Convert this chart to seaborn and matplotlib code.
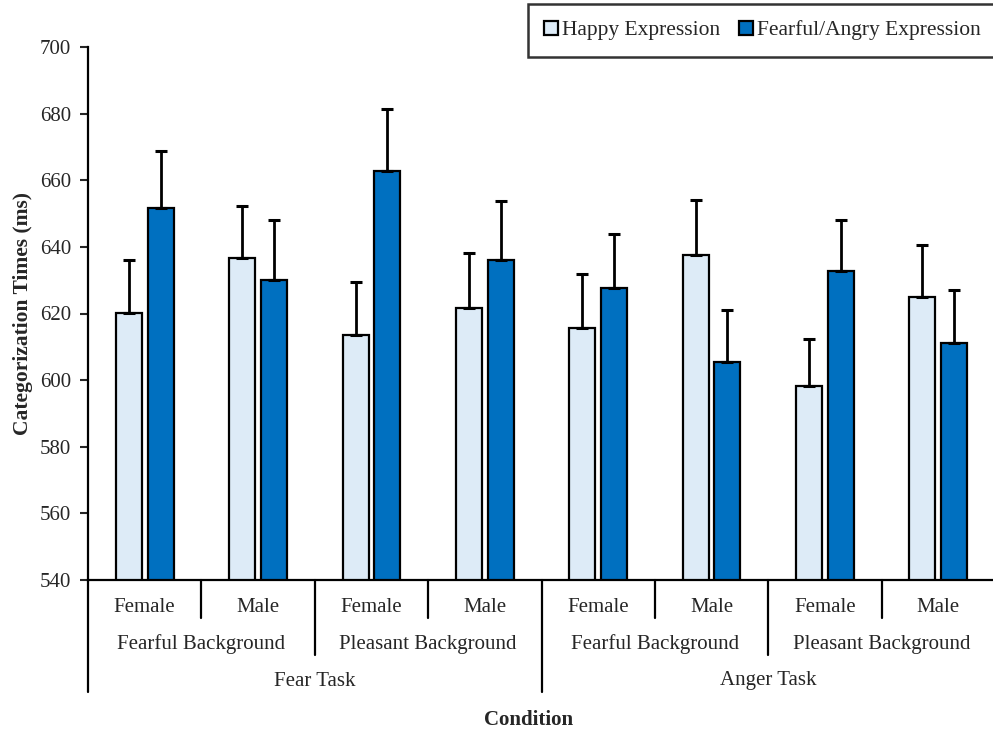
import matplotlib
matplotlib.use("Agg")
import matplotlib.pyplot as plt
import seaborn as sns
import pandas as pd
from matplotlib.container import BarContainer
from matplotlib.transforms import blended_transform_factory

# ---- data ----
tasks = ["Fear Task", "Anger Task"]
backgrounds = ["Fearful Background", "Pleasant Background"]
sexes = ["Female", "Male"]
series = ["Happy Expression", "Fearful/Angry Expression"]
happy_vals = [620.2, 636.8, 613.6, 621.7, 615.7, 637.6, 598.3, 625.0]
happy_err = [15.9, 15.4, 15.9, 16.5, 16.2, 16.6, 14.1, 15.5]
fearful_vals = [651.6, 630.1, 662.8, 636.1, 627.7, 605.4, 632.7, 611.2]
fearful_err = [17.1, 18.0, 18.6, 17.7, 16.2, 15.6, 15.4, 15.9]
yticks = [540, 560, 580, 600, 620, 640, 660, 680, 700]

colors = ["#DDEBF7", "#0070C0"]

sns.set_style("white")
plt.rcParams["font.family"] = ["Liberation Serif", "DejaVu Serif"]

conds = []
for t in tasks:
    for b in backgrounds:
        for s in sexes:
            conds.append(f"{t}|{b}|{s}")

rows = []
for i, c in enumerate(conds):
    rows.append({"cond": c, "series": series[0], "value": happy_vals[i]})
    rows.append({"cond": c, "series": series[1], "value": fearful_vals[i]})
df = pd.DataFrame(rows)

fig = plt.figure(figsize=(9.93, 7.30), dpi=100)
ax = fig.add_axes([88/993, (730-580)/730, 907/993, (580-47)/730])

sns.barplot(data=df, x="cond", y="value", hue="series", order=conds,
            hue_order=series, palette=colors, saturation=1, width=0.56, gap=0.18,
            edgecolor="black", linewidth=1.6, errorbar=None, ax=ax, legend=True)

errs = [happy_err, fearful_err]
bar_conts = [c for c in ax.containers if isinstance(c, BarContainer)]
for j, cont in enumerate(bar_conts):
    xs = [b.get_x() + b.get_width()/2 for b in cont]
    hs = [b.get_height() for b in cont]
    ax.errorbar(xs, hs, yerr=[[0]*len(hs), errs[j]], fmt="none",
                ecolor="black", elinewidth=2, capsize=4.5, capthick=2.2, zorder=1)

ax.set_ylim(540, 700)
ax.set_xlim(-0.5, 7.5)
ax.set_yticks(yticks)
ax.set_yticklabels([str(v) for v in yticks], fontsize=15)
ax.tick_params(axis="y", direction="out", length=6, width=1.5, left=True, pad=6)
ax.tick_params(axis="x", bottom=False, labelbottom=False)
ax.set_xlabel("")
ax.set_ylabel("Categorization Times (ms)", fontsize=15.5, fontweight="bold", labelpad=5)
for sp in ["top", "right"]:
    ax.spines[sp].set_visible(False)
for sp in ["left", "bottom"]:
    ax.spines[sp].set_linewidth(1.6)
    ax.spines[sp].set_color("black")

# hierarchical category axis
fig_h = 730
def yfig(py):
    return (fig_h - py) / fig_h

trans = blended_transform_factory(ax.transData, fig.transFigure)
lw = 1.6
for i, c in enumerate(conds):
    ax.text(i, yfig(607), c.split("|")[2], transform=trans, ha="center", va="center", fontsize=15)
for k in range(4):
    ax.text(2*k + 0.5, yfig(644), backgrounds[k % 2], transform=trans, ha="center", va="center", fontsize=15)
for k in range(2):
    ax.text(4*k + 1.5, yfig(681), tasks[k], transform=trans, ha="center", va="center", fontsize=15)

for x in [0.5, 2.5, 4.5, 6.5]:
    ax.plot([x, x], [yfig(580), yfig(618)], transform=trans, color="black", lw=lw, clip_on=False)
for x in [1.5, 5.5]:
    ax.plot([x, x], [yfig(580), yfig(655)], transform=trans, color="black", lw=lw, clip_on=False)
for x in [-0.5, 3.5, 7.5]:
    ax.plot([x, x], [yfig(580), yfig(692)], transform=trans, color="black", lw=lw, clip_on=False)

fig.text(529/993, yfig(720), "Condition", ha="center", va="center", fontsize=15, fontweight="bold")

# legend
handles, labels = ax.get_legend_handles_labels()
if ax.get_legend() is not None:
    ax.get_legend().remove()
leg = fig.legend(handles, labels, loc="upper right", bbox_to_anchor=(1.004, 0.994), ncol=2,
                 fontsize=15.5, frameon=True, fancybox=False, edgecolor="black",
                 handlelength=0.65, handleheight=0.65, handletextpad=0.2, columnspacing=0.85,
                 borderpad=0.75, borderaxespad=0)
leg.get_frame().set_linewidth(1.8)

fig.savefig("out.png", dpi=100)
